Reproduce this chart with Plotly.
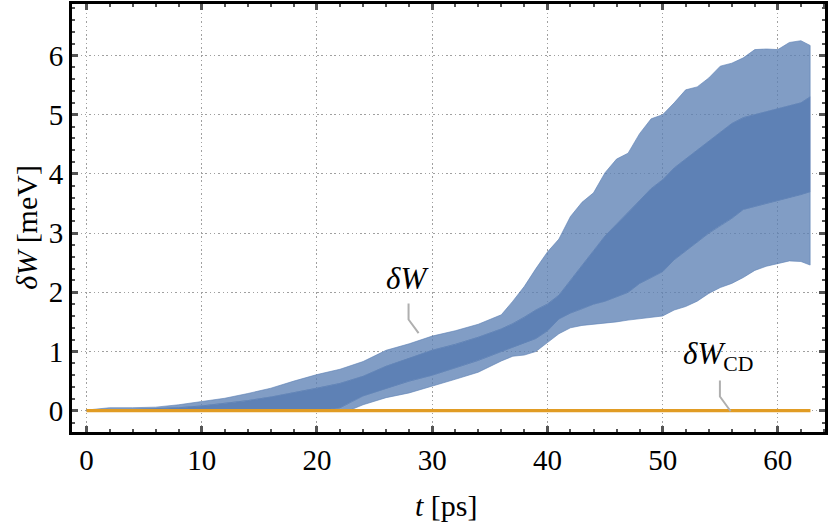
import plotly.graph_objects as go

# ---- data ----
t_env = [0, 2, 4, 6, 8, 10, 12, 14, 16, 18, 20, 22, 23, 24, 26, 28, 30, 32, 34, 36,
         37, 38, 39, 40, 41, 42, 43, 44, 45, 46, 47, 48, 49, 50, 51, 52, 53, 54, 55,
         56, 57, 58, 59, 60, 61, 62, 62.8]
# upper tips of the oscillation
spike_hi = [0.01, 0.05, 0.05, 0.06, 0.10, 0.16, 0.21, 0.29, 0.38, 0.50, 0.61, 0.70, 0.76,
            0.83, 1.02, 1.13, 1.26, 1.35, 1.46, 1.62, 1.85, 2.10, 2.40, 2.68, 2.90, 3.28,
            3.52, 3.68, 4.02, 4.25, 4.35, 4.68, 4.93, 5.00, 5.20, 5.42, 5.47, 5.62, 5.82,
            5.87, 5.96, 6.10, 6.11, 6.10, 6.22, 6.25, 6.17]
# top of the dense core
core_hi = [0.00, 0.02, 0.02, 0.03, 0.05, 0.08, 0.12, 0.17, 0.23, 0.30, 0.38, 0.46, 0.52,
           0.58, 0.75, 0.88, 1.02, 1.12, 1.24, 1.38, 1.47, 1.58, 1.70, 1.80, 1.95, 2.20,
           2.45, 2.70, 2.95, 3.15, 3.35, 3.55, 3.75, 3.90, 4.10, 4.25, 4.40, 4.55, 4.70,
           4.85, 4.95, 5.00, 5.05, 5.10, 5.15, 5.20, 5.30]
# bottom of the dense core
core_lo = [0, 0, 0, 0, 0, 0, 0, 0, 0, 0, 0, 0.05, 0.15, 0.25, 0.38, 0.50, 0.60, 0.72,
           0.85, 1.00, 1.08, 1.15, 1.22, 1.35, 1.55, 1.65, 1.72, 1.80, 1.85, 1.92, 2.00,
           2.15, 2.25, 2.35, 2.55, 2.70, 2.85, 3.00, 3.12, 3.25, 3.40, 3.45, 3.50, 3.55,
           3.60, 3.65, 3.70]
# lower tips of the oscillation
spike_lo = [0, 0, 0, 0, 0, 0, 0, 0, 0, 0, 0, 0.0, 0.02, 0.10, 0.22, 0.30, 0.41, 0.53,
            0.65, 0.84, 0.92, 0.94, 1.00, 1.15, 1.30, 1.40, 1.44, 1.47, 1.48, 1.50, 1.53,
            1.56, 1.58, 1.60, 1.70, 1.76, 1.85, 1.98, 2.08, 2.15, 2.25, 2.37, 2.44, 2.49,
            2.53, 2.52, 2.46]

t_cd = [0, 62.83]
w_cd = [0, 0]

x_ticks = [0, 10, 20, 30, 40, 50, 60]
y_ticks = [0, 1, 2, 3, 4, 5, 6]

# label anchors (data coords)
lab_w = (27.9, 2.24)
call_w_x = [27.95, 27.95, 28.82]
call_w_y = [1.81, 1.54, 1.31]
lab_cd = (54.8, 0.93)
call_cd_x = [54.97, 54.97, 55.9]
call_cd_y = [0.51, 0.24, -0.01]

BLUE = "rgb(94,129,181)"
BLUE_STRIPE = "rgba(94,129,181,0.78)"
ORANGE = "rgb(225,156,36)"
FONT = "Liberation Serif, Times New Roman, DejaVu Serif, serif"


def band(lo, hi, color):
    return go.Scatter(x=t_env + t_env[::-1], y=hi + lo[::-1], fill="toself",
                      fillcolor=color, line=dict(width=0.8, color=color),
                      mode="lines", hoverinfo="skip", showlegend=False)


fig = go.Figure()
fig.add_trace(band(core_hi, spike_hi, BLUE_STRIPE))
fig.add_trace(band(spike_lo, core_lo, BLUE_STRIPE))
fig.add_trace(band(core_lo, core_hi, BLUE))
fig.add_trace(go.Scatter(x=t_cd, y=w_cd, mode="lines",
                         line=dict(color=ORANGE, width=3.2), showlegend=False))
for cx, cy in ((call_w_x, call_w_y), (call_cd_x, call_cd_y)):
    fig.add_trace(go.Scatter(x=cx, y=cy, mode="lines",
                             line=dict(color="rgb(175,175,175)", width=2),
                             showlegend=False))

fig.add_annotation(x=lab_w[0], y=lab_w[1], text="<i>δW</i>", showarrow=False,
                   xanchor="center", yanchor="middle",
                   font=dict(family=FONT, size=31, color="black"))
fig.add_annotation(x=lab_cd[0], y=lab_cd[1], text="<i>δW</i><sub>CD</sub>", showarrow=False,
                   xanchor="center", yanchor="middle",
                   font=dict(family=FONT, size=31, color="black"))

fig.add_annotation(xref="paper", yref="paper", x=0.498, y=-0.171,
                   xanchor="center", yanchor="middle",
                   text="<i>t</i> [ps]", showarrow=False,
                   font=dict(family=FONT, size=30, color="black"))
fig.add_annotation(xref="paper", yref="paper", x=-0.06, y=0.479,
                   xanchor="center", yanchor="middle",
                   text="<i>δW</i> [meV]", showarrow=False, textangle=-90,
                   font=dict(family=FONT, size=30, color="black"))

axis_common = dict(showline=True, linewidth=3, linecolor="black", mirror="allticks",
                   ticks="inside", ticklen=6, tickwidth=2.5, tickcolor="rgb(85,85,85)",
                   showgrid=True, gridcolor="rgb(160,160,160)", gridwidth=1.4,
                   griddash="1.5px,2.8px", zeroline=False, automargin=False,
                   tickfont=dict(family=FONT, size=29, color="black"))

fig.update_xaxes(range=[-1.257, 64.09], tickvals=x_ticks,
                 minor=dict(dtick=2, tick0=0, ticks="inside", ticklen=3, tickwidth=2.2,
                            tickcolor="rgb(85,85,85)", showgrid=False),
                 **axis_common)
fig.update_yaxes(range=[-0.36, 6.87], tickvals=y_ticks,
                 minor=dict(dtick=0.2, tick0=0, ticks="inside", ticklen=3, tickwidth=2.2,
                            tickcolor="rgb(85,85,85)", showgrid=False),
                 **axis_common)

fig.update_layout(width=830, height=530, margin=dict(l=72, r=5, t=4, b=98),
                  plot_bgcolor="white", paper_bgcolor="white",
                  font=dict(family=FONT, color="black"))

fig.write_html("out.html", config={"displayModeBar": False},
               post_script="document.body.style.margin='0';document.body.style.overflow='hidden';")
